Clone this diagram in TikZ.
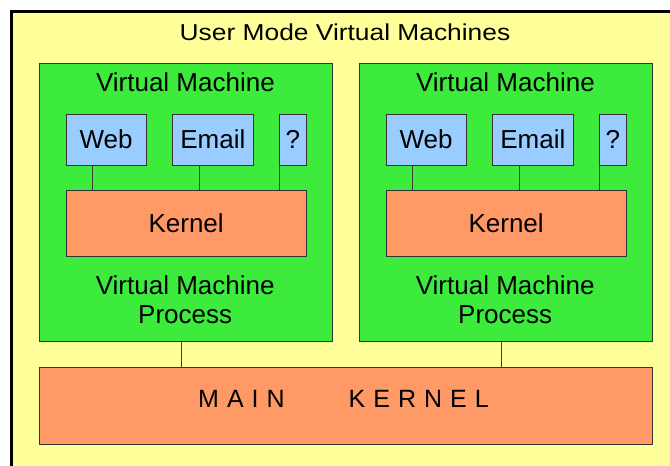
\documentclass[tikz,border=0pt]{standalone}
\usepackage{fontspec}
\setmainfont{Liberation Sans}
\usepackage{graphicx}
\definecolor{bgyellow}{RGB}{255,255,153}
\definecolor{vmgreen}{RGB}{61,235,61}
\definecolor{appblue}{RGB}{153,204,255}
\definecolor{kernorange}{RGB}{255,153,102}
\begin{document}
\begin{tikzpicture}[x=1pt,y=-1pt,
  box/.style={draw=black!80, line width=0.9pt, inner sep=0pt, outer sep=0pt, font=\fontsize{26}{30}\selectfont},
  vmbox/.style={box, fill=vmgreen, minimum width=293pt, minimum height=278.7pt},
  appbox/.style={box, fill=appblue, minimum height=51pt},
  kernbox/.style={box, fill=kernorange},
  lbl/.style={anchor=base, inner sep=0pt, font=\fontsize{26}{30}\selectfont},
  wire/.style={draw=black!75, line width=0.9pt}]
\useasboundingbox (0,0) rectangle (670,466);
\fill[white] (0,0) rectangle (670,466);
\fill[bgyellow] (11.5,11.5) rectangle (670,466);
\draw[line width=3pt] (11.5,466) -- (11.5,11.5) -- (670,11.5);

\node[lbl, font=\fontsize{23}{27}\selectfont] (title) at (345,40) {\scalebox{1.146}[1]{User Mode Virtual Machines}};

\node[kernbox, minimum width=613pt, minimum height=76.7pt] (main) at (346.2,405.65) {};
\node[lbl, anchor=base west, font=\fontsize{25}{30}\selectfont] (maint) at (198,407.5)
  {M\hspace{8pt}A\hspace{8pt}I\hspace{8pt}N\hspace{64pt}K\hspace{8pt}E\hspace{8pt}R\hspace{8pt}N\hspace{8pt}E\hspace{8pt}L};

\foreach \i/\dx in {1/0,2/320}{
  \node[vmbox] (vm\i) at (186.2+\dx,202.35) {};
  \node[lbl] (vmt\i) at (185.4+\dx,91.6) {Virtual Machine};
  \node[appbox, minimum width=80.3pt] (web\i) at (106.15+\dx,139.5) {Web};
  \node[appbox, minimum width=80.3pt] (email\i) at (212.85+\dx,139.5) {Email};
  \node[appbox, minimum width=27pt] (q\i) at (292.8+\dx,139.5) {?};
  \node[kernbox, minimum width=240.3pt, minimum height=66.7pt] (kern\i) at (186.15+\dx,223.35) {Kernel};
  \node[lbl] (vmpa\i) at (185.2+\dx,294.3) {Virtual Machine};
  \node[lbl] (vmpb\i) at (185.2+\dx,323.3) {Process};
  \draw[wire] ([xshift=-13.5pt]web\i.south) -- ([xshift=-13.5pt]web\i.south |- kern\i.north);
  \draw[wire] ([xshift=-13.5pt]email\i.south) -- ([xshift=-13.5pt]email\i.south |- kern\i.north);
  \draw[wire] (q\i.south west) -- (q\i.south west |- kern\i.north);
  \draw[wire] ([xshift=-4.3pt]vm\i.south) -- ([xshift=-4.3pt]vm\i.south |- main.north);
}
\end{tikzpicture}
\end{document}
